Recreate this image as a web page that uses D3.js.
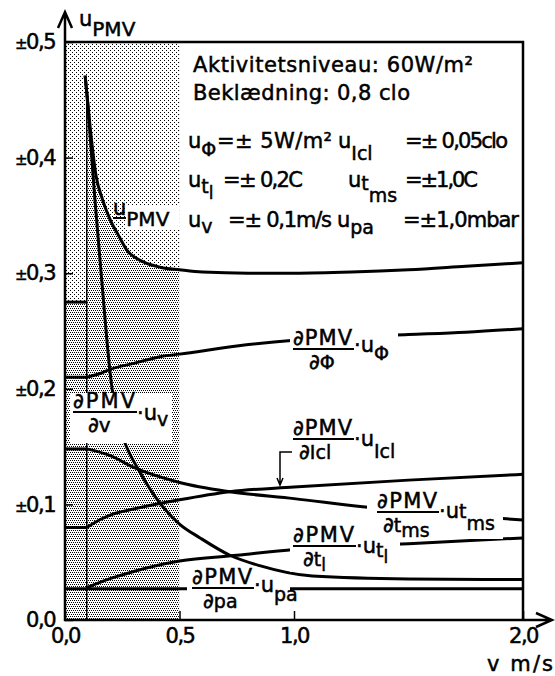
<!DOCTYPE html>
<html lang="da">
<head>
<meta charset="UTF-8">
<title>u_PMV mod lufthastighed</title>
<script src="https://d3js.org/d3.v7.min.js"></script>
<style>
  body { margin: 0; background: #fff; }
  text { font-family: "DejaVu Sans", sans-serif; fill: #000; stroke: #000; stroke-width: 0.5; }
</style>
</head>
<body>
<script>
const width = 555;
const height = 676;

// lowest air speed in the model; below it each term is held constant
const vMin = 0.095;
const lowValues = [0.275, 0.210, 0.148, 0.080];   // uPMV, phi, tms, Icl

// series (v in m/s, value in PMV units)
const uPmvV = [0.088, 0.11, 0.135, 0.165, 0.2, 0.23, 0.27, 0.34, 0.42, 0.5, 0.6, 0.8, 1.0, 1.25, 1.5, 1.75, 2.0];
const uPmvU = [0.471, 0.426, 0.385, 0.363, 0.345, 0.334, 0.320, 0.310, 0.305, 0.303, 0.301, 0.300, 0.300, 0.301, 0.303, 0.306, 0.309];

const dvV = [0.088, 0.1, 0.115, 0.131, 0.16, 0.197, 0.22, 0.253, 0.33, 0.415, 0.5, 0.59, 0.72, 0.85, 1.08, 1.5, 2.0];
const dvU = [0.471, 0.445, 0.405, 0.363, 0.295, 0.214, 0.181, 0.158, 0.127, 0.101, 0.083, 0.071, 0.056, 0.047, 0.038, 0.0355, 0.035];

const phiV = [0.095, 0.15, 0.2, 0.3, 0.42, 0.5, 0.75, 1.0, 1.25, 1.5, 1.75, 2.0];
const phiU = [0.210, 0.213, 0.217, 0.222, 0.228, 0.230, 0.237, 0.242, 0.245, 0.247, 0.249, 0.252];

const tmsV = [0.095, 0.2, 0.3, 0.5, 0.72, 1.0, 1.3, 1.5, 1.75, 2.0];
const tmsU = [0.148, 0.142, 0.132, 0.119, 0.111, 0.105, 0.098, 0.094, 0.090, 0.0865];

const iclV = [0.095, 0.15, 0.2, 0.3, 0.5, 0.72, 1.0, 1.5, 2.0];
const iclU = [0.080, 0.0865, 0.091, 0.096, 0.104, 0.111, 0.115, 0.121, 0.126];

const tlV = [0.095, 0.2, 0.3, 0.5, 0.75, 1.0, 1.5, 2.0];
const tlU = [0.028, 0.036, 0.042, 0.051, 0.056, 0.061, 0.066, 0.071];

const paV = [0, 2.0];
const paU = [0.027, 0.027];

const yTicks = [0, 0.1, 0.2, 0.3, 0.4, 0.5];
const yTickLabels = ["0,0", "±0,1", "±0,2", "±0,3", "±0,4", "±0,5"];
const xTicks = [0, 0.5, 1.0, 2.0];
const xTickLabels = ["0,0", "0,5", "1,0", "2,0"];

const x = d3.scaleLinear().domain([0, 2]).range([65, 523]);
const y = d3.scaleLinear().domain([0, 0.5]).range([620, 42]);

const svg = d3.select("body").append("svg")
  .attr("width", width)
  .attr("height", height);

svg.append("rect").attr("width", width).attr("height", height).attr("fill", "#fff");

// stipple patterns
const defs = svg.append("defs");
function addPattern(id, cells) {
  const p = defs.append("pattern").attr("id", id)
    .attr("width", 4).attr("height", 4).attr("patternUnits", "userSpaceOnUse");
  p.append("rect").attr("width", 4).attr("height", 4).attr("fill", "#fff");
  cells.forEach(c => p.append("rect").attr("x", c[0]).attr("y", c[1])
    .attr("width", 1).attr("height", 1).attr("fill", "#000"));
}
addPattern("dark", [[0, 0], [2, 0], [1, 2], [3, 2]]);
addPattern("light", [[0, 0], [2, 2]]);

defs.append("clipPath").attr("id", "shadeClip").append("rect")
  .attr("x", x(0)).attr("y", y(0.5))
  .attr("width", x(0.5) - x(0)).attr("height", y(0) - y(0.5));

const shade = svg.append("g").attr("clip-path", "url(#shadeClip)");
shade.append("rect")
  .attr("x", x(0)).attr("y", y(0.5))
  .attr("width", x(0.5) - x(0)).attr("height", y(0) - y(0.5))
  .attr("fill", "url(#dark)");
shade.append("path")
  .datum(d3.zip(uPmvV, uPmvU))
  .attr("fill", "url(#light)")
  .attr("d", d3.area().x(d => x(d[0])).y0(y(0.5)).y1(d => y(d[1])).curve(d3.curveMonotoneX));
shade.append("rect")
  .attr("x", x(0)).attr("y", y(0.5))
  .attr("width", x(vMin) - x(0)).attr("height", y(lowValues[0]) - y(0.5))
  .attr("fill", "url(#light)");

// curves
const line = d3.line().x(d => x(d[0])).y(d => y(d[1])).curve(d3.curveMonotoneX);
const curves = svg.append("g").attr("fill", "none").attr("stroke", "#000")
  .attr("stroke-width", 3).attr("stroke-linejoin", "round");

[[uPmvV, uPmvU], [dvV, dvU], [phiV, phiU], [tmsV, tmsU], [iclV, iclU], [tlV, tlU], [paV, paU]]
  .forEach(s => curves.append("path").attr("d", line(d3.zip(s[0], s[1]))));

lowValues.forEach(v => curves.append("path").attr("d", line([[0, v], [vMin, v]])));

svg.append("line")
  .attr("x1", x(vMin)).attr("x2", x(vMin))
  .attr("y1", y(0)).attr("y2", y(0.46))
  .attr("stroke", "#000").attr("stroke-width", 1.5);

// white gaps behind the curve labels
const boxes = [[70, 393, 102, 50], [290, 325, 108, 47], [367, 489, 136, 50],
               [290, 521, 110, 51], [187, 580, 103, 16], [125, 206, 54, 24]];
svg.append("g").selectAll("rect").data(boxes).join("rect")
  .attr("x", d => d[0]).attr("y", d => d[1])
  .attr("width", d => d[2]).attr("height", d => d[3])
  .attr("fill", "#fff");

// text helpers
function rich(px, py, parts) {
  const t = svg.append("text").attr("x", px).attr("y", py);
  let prev = 0;
  parts.forEach(p => {
    t.append("tspan").attr("dy", p[1] - prev).attr("font-size", p[2]).text(p[0]);
    prev = p[1];
  });
  return t;
}
function plain(px, py, str, size, len) {
  const t = svg.append("text").attr("x", px).attr("y", py).attr("font-size", size).text(str);
  if (len) t.attr("textLength", len);
  return t;
}
function fraction(px, barY, barW, denX, den, afterX, afterY, after) {
  plain(px, barY - 3, "∂PMV", 21, barW - 2);
  svg.append("line").attr("x1", px).attr("x2", px + barW)
    .attr("y1", barY + 1).attr("y2", barY + 1)
    .attr("stroke", "#000").attr("stroke-width", 2);
  rich(denX, barY + 21, den);
  rich(afterX, afterY, after);
}

// header block
plain(193, 72, "Aktivitetsniveau: 60W/m²", 21, 280);
plain(193, 100, "Beklædning: 0,8 clo", 21, 217);

rich(188, 148, [["u", 0, 21], ["Φ", 8, 19]]);
plain(217, 148, "=± 5W/m²", 21, 115);
rich(338, 148, [["u", 0, 21], ["Icl", 12, 19]]);
plain(405, 148, "=± 0,05clo", 21, 103);

rich(188, 187, [["u", 0, 21], ["t", 6, 19], ["l", 12, 17]]);
plain(223, 187, "=± 0,2C", 21, 80);
rich(348, 187, [["u", 0, 21], ["t", 3, 19], ["ms", 15, 19]]);
plain(405, 187, "=±1,0C", 21, 73);

rich(188, 227, [["u", 0, 21], ["v", 6, 19]]);
plain(228, 227, "=± 0,1m/s", 21, 104);
rich(337, 227, [["u", 0, 21], ["pa", 7, 19]]);
plain(403, 227, "=±1,0mbar", 21, 116);

// curve labels
rich(113, 215, [["u", 0, 21], ["PMV", 11, 20]]);
svg.append("line").attr("x1", 113).attr("x2", 126).attr("y1", 218).attr("y2", 218)
  .attr("stroke", "#000").attr("stroke-width", 2);

fraction(293, 348, 61, 309, [["∂", 0, 21], ["Φ", 0, 19]],
  354, 352, [["·u", 0, 21], ["Φ", 8, 19]]);
fraction(293, 438, 61, 299, [["∂", 0, 21], ["Icl", 0, 19]],
  354, 446, [["·u", 0, 21], ["Icl", 12, 19]]);
fraction(377, 511, 62, 383, [["∂", 0, 21], ["t", 0, 19], ["ms", 5, 19]],
  439, 518, [["·u", 0, 21], ["t", 0, 19], ["ms", 12, 19]]);
fraction(293, 545, 63, 303, [["∂", 0, 21], ["t", 0, 19], ["l", 5, 17]],
  356, 553, [["·u", 0, 21], ["t", 4, 19], ["l", 10, 17]]);
fraction(192, 587, 62, 203, [["∂", 0, 21], ["pa", 0, 19]],
  254, 592, [["·u", 0, 21], ["pa", 9, 19]]);
fraction(73, 411, 64, 88, [["∂", 0, 21], ["v", 0, 20]],
  137, 420, [["·u", 0, 21], ["v", 6, 19]]);

// leader from the Icl label to its curve
svg.append("path")
  .attr("d", `M292,452H280V${y(0.115) - 2}M277,${y(0.115) - 9}L280,${y(0.115) - 2}L283,${y(0.115) - 9}`)
  .attr("fill", "none").attr("stroke", "#000").attr("stroke-width", 1.5);

// frame
svg.append("path")
  .attr("d", `M${x(0)},${y(0.5)}H${x(2)}V${y(0)}`)
  .attr("fill", "none").attr("stroke", "#000").attr("stroke-width", 2.5);

// axes
const yAxis = svg.append("g").attr("transform", `translate(${x(0)},0)`)
  .call(d3.axisLeft(y).tickValues(yTicks)
    .tickFormat((d, i) => yTickLabels[i])
    .tickSizeInner(-8).tickSizeOuter(0).tickPadding(10));
yAxis.select(".domain").remove();
yAxis.selectAll(".tick line").attr("stroke-width", 1.5);
yAxis.selectAll(".tick text")
  .attr("font-size", 21).attr("letter-spacing", -1.5)
  .each(function (d, i) {
    const label = yTickLabels[i];
    const t = d3.select(this).text(null);
    if (label.startsWith("±")) {
      t.append("tspan").attr("font-size", 15).text("±");
      t.append("tspan").text(label.slice(1));
    } else {
      t.text(label);
    }
  });

const xAxis = svg.append("g").attr("transform", `translate(0,${y(0)})`)
  .call(d3.axisBottom(x).tickValues(xTicks)
    .tickFormat((d, i) => xTickLabels[i])
    .tickSizeInner(-9).tickSizeOuter(0).tickPadding(8));
xAxis.select(".domain").remove();
xAxis.selectAll(".tick line").attr("stroke-width", 1.5);
xAxis.selectAll(".tick text").attr("font-size", 21).attr("letter-spacing", -1.5);

svg.append("path")
  .attr("d", `M${x(0)},${y(0) + 1}V12M58,28L${x(0)},12L72,28`)
  .attr("fill", "none").attr("stroke", "#000").attr("stroke-width", 2.5);
svg.append("path")
  .attr("d", `M${x(0) - 1},${y(0)}H552M536,613L552,${y(0)}L536,627`)
  .attr("fill", "none").attr("stroke", "#000").attr("stroke-width", 2.5);

rich(79, 26, [["u", 0, 21], ["PMV", 10, 20]]);
svg.append("text").attr("x", 553).attr("y", 671).attr("font-size", 21)
  .attr("text-anchor", "end").attr("textLength", 66).text("v m/s");
</script>
</body>
</html>
